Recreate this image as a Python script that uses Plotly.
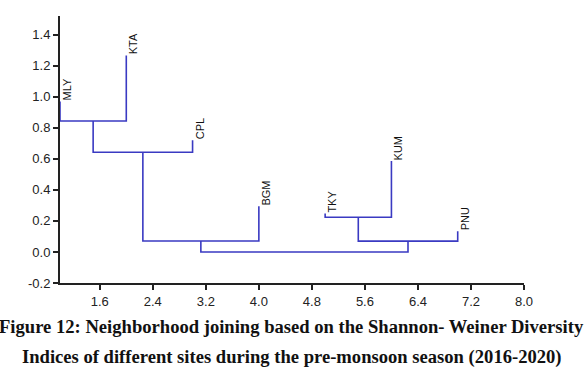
import plotly.graph_objects as go

# Leaves (sites), their x positions and tip heights
leaf_names = ["MLY", "KTA", "CPL", "BGM", "TKY", "KUM", "PNU"]
leaf_x = [1.0, 2.0, 3.0, 4.0, 5.0, 6.0, 7.0]
leaf_h = [0.97, 1.266, 0.72, 0.295, 0.248, 0.586, 0.134]

# Internal joins: (left child, right child, join height); children index leaves 0..6 then joins 7..
joins = [
    (0, 1, 0.844),   # 7: MLY + KTA
    (7, 2, 0.642),   # 8: + CPL
    (8, 3, 0.071),   # 9: + BGM
    (4, 5, 0.224),   # 10: TKY + KUM
    (10, 6, 0.070),  # 11: + PNU
    (9, 11, 0.0),    # 12: root
]

x_ticks = [1.6, 2.4, 3.2, 4.0, 4.8, 5.6, 6.4, 7.2, 8.0]
y_ticks = [-0.2, 0.0, 0.2, 0.4, 0.6, 0.8, 1.0, 1.2, 1.4]

LINE = "#3a3ac2"

node_x = list(leaf_x)
node_h = list(leaf_h)
xs, ys = [], []
for a, b, h in joins:
    xs += [node_x[a], node_x[a], node_x[b], node_x[b], None]
    ys += [node_h[a], h, h, node_h[b], None]
    node_x.append((node_x[a] + node_x[b]) / 2)
    node_h.append(h)

fig = go.Figure()
fig.add_trace(go.Scatter(x=xs, y=ys, mode="lines",
                         line=dict(color=LINE, width=1.6),
                         hoverinfo="skip", showlegend=False, cliponaxis=False))

for name, x, h in zip(leaf_names, leaf_x, leaf_h):
    fig.add_annotation(x=x, y=h, text=name, textangle=-90, showarrow=False,
                       xanchor="left", yanchor="bottom", xshift=-1, yshift=-1,
                       font=dict(family="Liberation Sans, Arial", size=11, color="#111"))

cap_font = dict(family="Liberation Serif, Times New Roman", size=18.6, color="#111")
fig.add_annotation(xref="paper", yref="paper", x=0.499, y=-0.163,
                   text="<b>Figure 12: Neighborhood joining based on the Shannon- Weiner Diversity</b>",
                   showarrow=False, xanchor="center", yanchor="middle", font=cap_font)
fig.add_annotation(xref="paper", yref="paper", x=0.499, y=-0.276,
                   text="<b>Indices of different sites during the pre-monsoon season (2016-2020)</b>",
                   showarrow=False, xanchor="center", yanchor="middle", font=cap_font)

axis_font = dict(family="Liberation Sans, Arial", size=13, color="#222")
fig.update_xaxes(range=[1.0, 8.0], tickvals=x_ticks,
                 ticktext=[f"{v:.1f}" for v in x_ticks],
                 showgrid=False, zeroline=False, showline=True, linecolor="#222",
                 linewidth=2, ticks="outside", ticklen=5, tickwidth=1.5,
                 tickcolor="#222", tickfont=axis_font)
fig.update_yaxes(range=[-0.2, 1.52], tickvals=y_ticks,
                 ticktext=[f"{v:.1f}" for v in y_ticks],
                 showgrid=False, zeroline=False, showline=True, linecolor="#222",
                 linewidth=2, ticks="outside", ticklen=5, tickwidth=1.5,
                 tickcolor="#222", tickfont=axis_font)

fig.update_layout(width=587, height=379, margin=dict(l=60, r=63, t=16, b=96),
                  plot_bgcolor="white", paper_bgcolor="white")

fig.write_html("out.html", config={"displayModeBar": False},
               post_script="document.body.style.margin='0';")
